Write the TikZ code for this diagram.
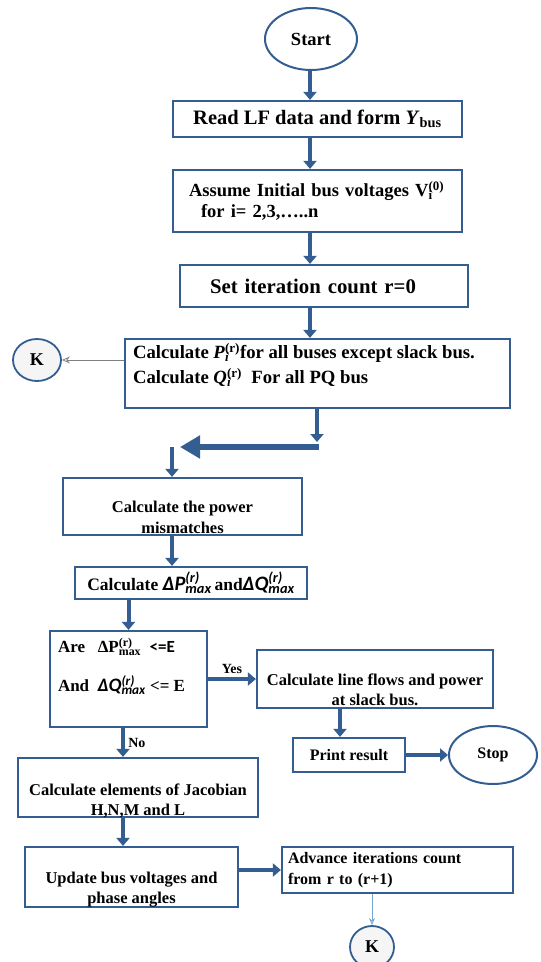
\documentclass[tikz,border=0pt]{standalone}
\usepackage{fontspec}
\setmainfont{Liberation Serif}
\newfontfamily\calfont{Carlito}
\usetikzlibrary{arrows.meta}
\usetikzlibrary{shapes.geometric}

\definecolor{flowblue}{RGB}{52,94,146}
\definecolor{lightblue}{RGB}{120,165,210}

% subscript and superscript stacked
\newcommand{\subsup}[2]{\setbox0=\hbox{\textsuperscript{#2}}\setbox2=\hbox{\textsubscript{#1}}%
  \ifdim\wd0>\wd2 \rlap{\box2}\box0\else\rlap{\box0}\box2\fi}
\newcommand{\calit}[2][20.5]{{\calfont\itshape\fontsize{#1}{20}\selectfont #2}}
% text block raised by #1, in a box of width #2, aligned #3
\newcommand{\inbox}[4]{\raisebox{#1}[0pt][0pt]{\makebox[#2][#3]{\begin{tabular}{@{}#3@{}}#4\end{tabular}}}}

\begin{document}
\begin{tikzpicture}[x=1pt,y=-1pt,
    box/.style={draw=flowblue, line width=2.2pt, rectangle, inner sep=4pt,
      font=\bfseries\fontsize{16.5}{20}\selectfont},
    term/.style={draw=flowblue, line width=2pt, ellipse, inner sep=0pt,
      font=\bfseries\fontsize{16}{18}\selectfont},
    conn/.style={draw=flowblue, line width=1.8pt, ellipse, fill=gray!8, inner sep=0pt,
      font=\bfseries\fontsize{18}{20}\selectfont},
    lbl/.style={font=\bfseries\fontsize{14}{16}\selectfont},
    flow/.style={draw=flowblue, line width=4pt, -{Triangle[length=8pt,width=13pt]}},
    bigflow/.style={draw=flowblue, line width=6.5pt, -{Triangle[length=20pt,width=22pt]}},
    thin/.style={draw=lightblue, line width=0.8pt, -{Stealth[length=7pt,width=6pt,open]}}]
    \useasboundingbox (0,0) rectangle (541,962);

    % main column
    \node [term, minimum width=92, minimum height=62, font=\bfseries\fontsize{18.5}{20}\selectfont] (start) at (311,39) {Start};
    \node [box, minimum width=289, minimum height=36, font=\bfseries\fontsize{20.5}{22}\selectfont] (rdata) at (317.5,119)
      {Read LF data and form \textit{Y}\textsubscript{bus}};
    \node [box, minimum width=289, minimum height=62, text width=257, inner xsep=16pt, align=left,
      font=\bfseries\fontsize{18.5}{21}\selectfont] (init) at (317.5,201)
      {Assume Initial bus voltages V\subsup{i}{(0)}\\ \hspace*{12pt}for i= 2,3,\dots..n};
    \node [box, minimum width=288, minimum height=42, text width=228, inner xsep=30pt, align=left,
      font=\bfseries\fontsize{20.8}{22}\selectfont] (rset) at (324,286)
      {Set iteration count r=0};
    \node [box, minimum width=385, minimum height=69, font=\bfseries\fontsize{18.7}{25}\selectfont] (calcpq) at (317.5,373.5)
      {\inbox{3pt}{369pt}{l}{Calculate \textit{P}\subsup{\textit{i}}{(r)}for all buses except slack bus.\\
       Calculate \textit{Q}\subsup{\textit{i}}{(r)}\ \ For all PQ bus}};
    \node [conn, minimum width=48, minimum height=42] (kleft) at (37,360) {K};

    \coordinate (bend) at (317,442);
    \coordinate (turn) at (180,447);
    \coordinate (drop) at (172,447);

    \node [box, minimum width=239, minimum height=57, font=\bfseries\fontsize{16.5}{21}\selectfont] (mism) at (182.5,506.5)
      {\inbox{-16.6pt}{0pt}{c}{Calculate the power\\ mismatches}};
    \node [box, minimum width=232, minimum height=32, font=\bfseries\fontsize{17.5}{20}\selectfont] (ppmax) at (191,583)
      {Calculate \calit{ΔP\subsup{max}{(r)}}\,and\calit{ΔQ\subsup{max}{(r)}}};
    \node [box, minimum width=157, minimum height=96, font=\bfseries\fontsize{17}{20}\selectfont] (check) at (128.5,679)
      {\inbox{6.6pt}{141pt}{l}{Are\ \ \ ΔP\subsup{max}{(r)}\ \ {\calfont <=E}\\[17pt]
       And\ \ \calit[19]{ΔQ\subsup{max}{(r)}} <= E}};
    \node [box, minimum width=236, minimum height=58] (lineflow) at (375,679)
      {\inbox{-16.6pt}{0pt}{c}{Calculate line flows and power\\ at slack bus.}};
    \node [box, minimum width=112, minimum height=34, font=\bfseries\fontsize{16}{20}\selectfont] (print) at (349,755) {Print result};
    \node [term, minimum width=88, minimum height=58] (stop) at (493,755) {Stop};
    \node [box, minimum width=240, minimum height=59] (jacob) at (138,787.5)
      {\inbox{-18pt}{0pt}{c}{Calculate elements of Jacobian\\ H,N,M and L}};
    \node [box, minimum width=213, minimum height=60] (update) at (131.5,877)
      {\inbox{-16.6pt}{0pt}{c}{Update bus voltages and\\ phase angles}};
    \node [box, minimum width=231, minimum height=46, text width=219, inner xsep=6pt, align=left,
      font=\bfseries\fontsize{16}{21}\selectfont] (advance) at (397.5,870)
      {Advance iterations count\\ from r to (r+1)};
    \node [conn, minimum width=44, minimum height=42] (kbot) at (372,947) {K};

    % connectors
    \draw [flow] (start.south -| 310,0) -- (rdata.north -| 310,0);
    \draw [flow] (rdata.south -| 310,0) -- (init.north -| 310,0);
    \draw [flow] (init.south -| 310,0) -- (rset.north -| 310,0);
    \draw [flow] (rset.south -| 310,0) -- (calcpq.north -| 310,0);
    \draw [draw=gray, line width=0.8pt, -{Stealth[length=8pt,width=7pt,open]}] (calcpq.west |- kleft) -- (kleft.east);
    \draw [flow] (calcpq.south -| bend) -- (bend);
    \draw [bigflow] (bend |- turn) ++(2,0) -- (turn);
    \draw [flow] (drop) -- (mism.north -| drop);
    \draw [flow] (mism.south -| 172,0) -- (ppmax.north -| 172,0);
    \draw [flow] (ppmax.south -| check.north) -- (check.north);
    \draw [flow] (check.east) -- node [lbl, above] {Yes} (lineflow.west);
    \draw [flow] (lineflow.south -| 340,0) -- (print.north -| 340,0);
    \draw [flow] (print.east) -- (stop.west);
    \draw [flow] (check.south -| 123,0) -- node [lbl, right] {No} (jacob.north -| 123,0);
    \draw [flow] (jacob.south -| 123,0) -- (update.north -| 123,0);
    \draw [flow] (update.east |- advance) -- (advance.west);
    \draw [thin] (advance.south -| kbot) -- (kbot.north);
\end{tikzpicture}
\end{document}
